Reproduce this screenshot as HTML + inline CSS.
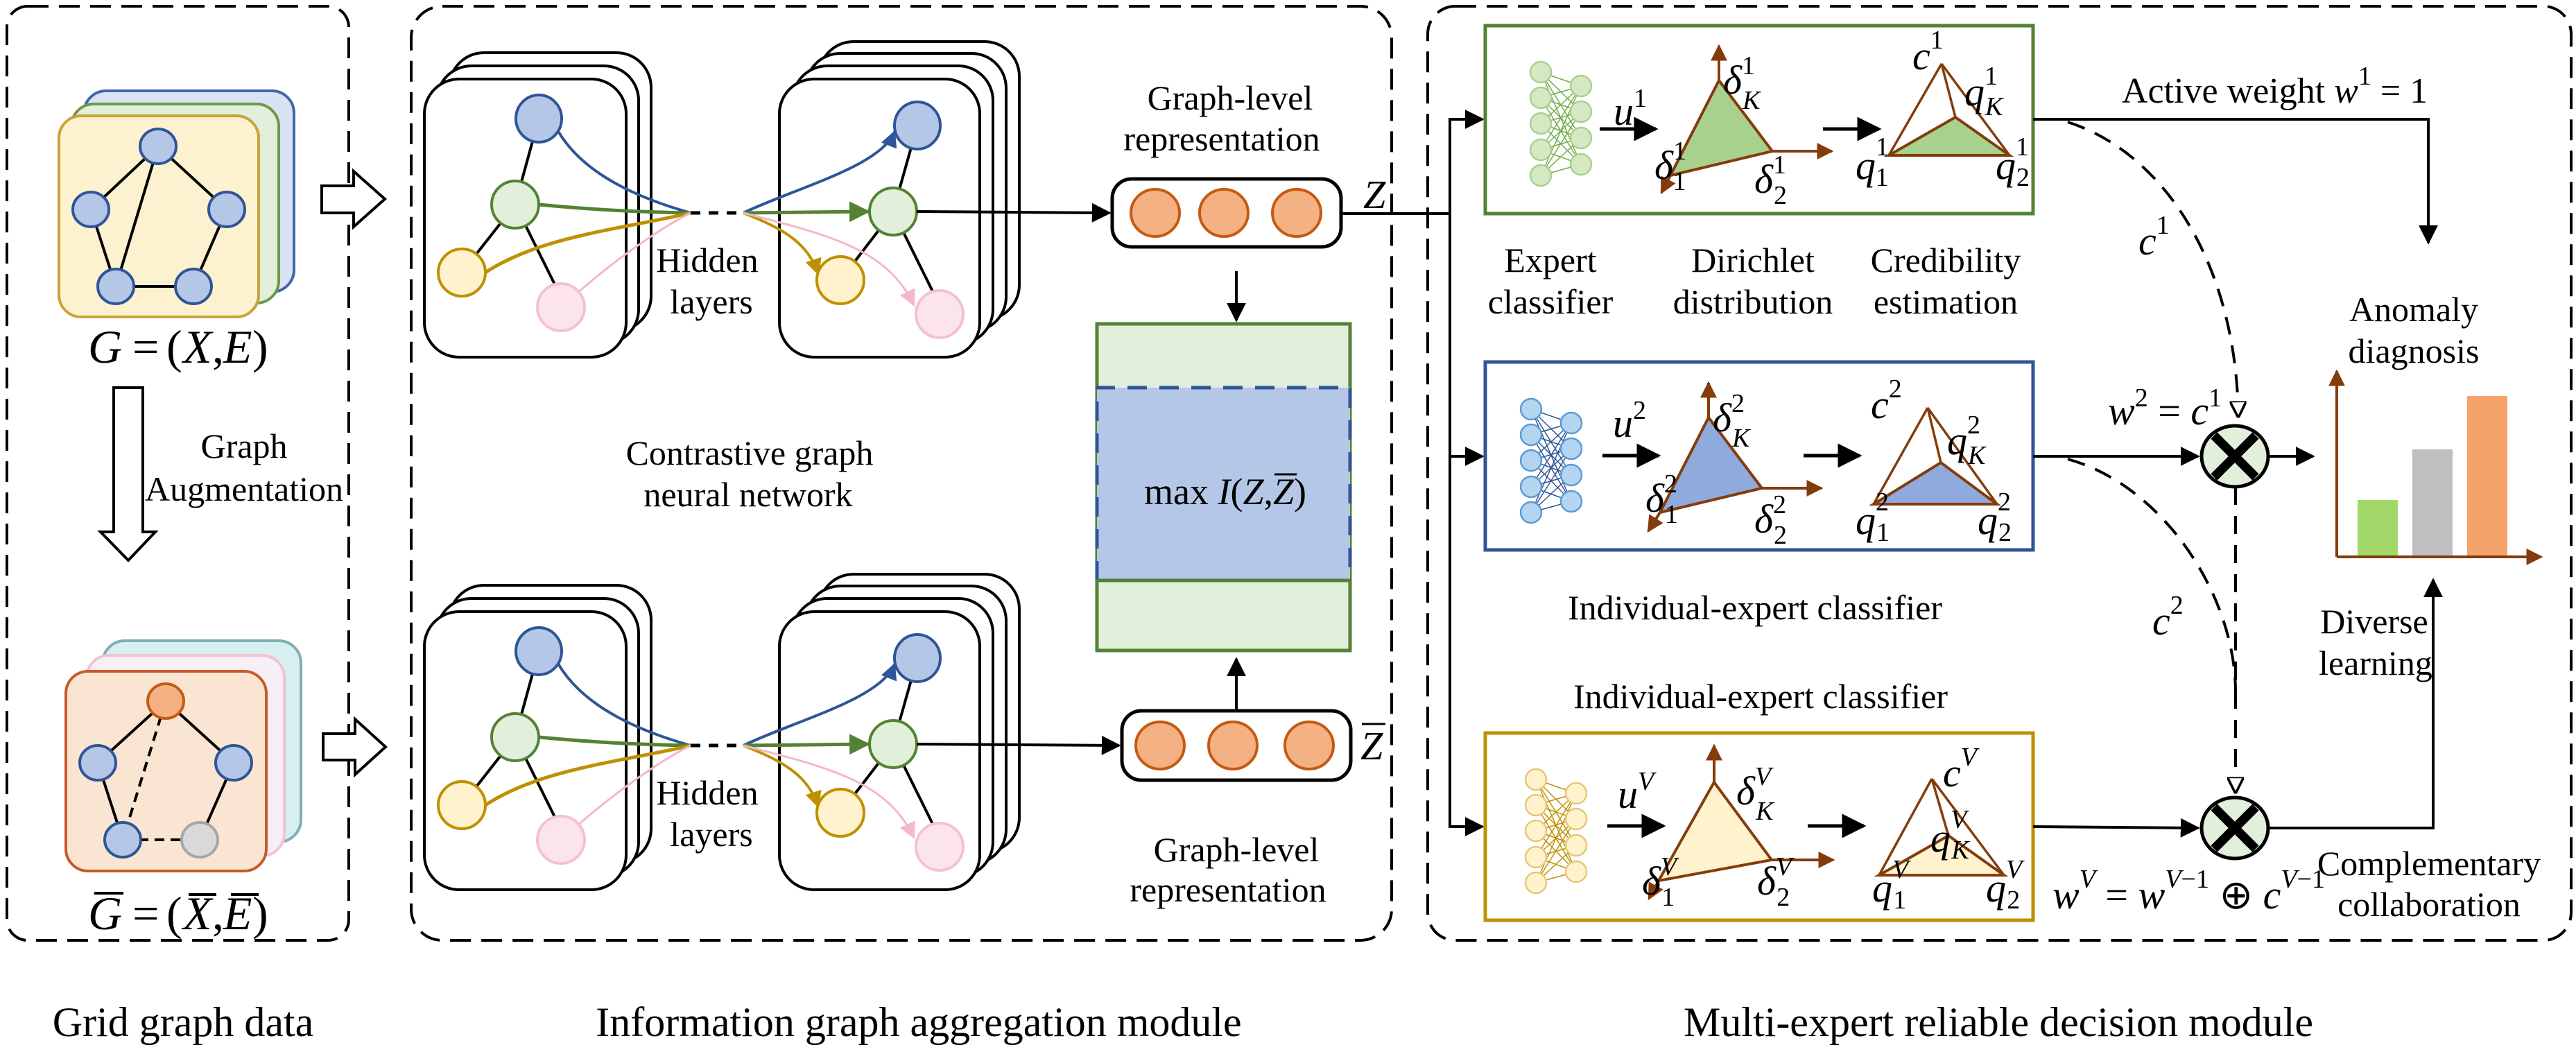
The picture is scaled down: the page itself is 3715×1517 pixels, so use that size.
<!DOCTYPE html>
<html><head><meta charset="utf-8"><style>
html,body{margin:0;padding:0;background:#fff}
svg{display:block}
svg text{font-family:"Liberation Serif","Times New Roman",serif !important;fill:#000}
.lb{font-size:50px;text-anchor:middle}
.big{font-size:60px;text-anchor:middle}
.m{font-style:italic;font-size:58px}
.s{font-size:38px;font-style:normal}
.si{font-size:38px;font-style:italic}
</style></head><body>
<svg width="3715" height="1517" viewBox="0 0 3715 1517" xmlns="http://www.w3.org/2000/svg" font-family="Liberation Serif, serif">
<defs>
<marker id="ab" viewBox="0 0 10 10" refX="9" refY="5" markerWidth="7" markerHeight="7" markerUnits="strokeWidth" orient="auto"><path d="M0,0L10,5L0,10z" fill="#000"/></marker>
<marker id="abr" viewBox="0 0 10 10" refX="9" refY="5" markerWidth="6" markerHeight="6" markerUnits="strokeWidth" orient="auto"><path d="M0,0L10,5L0,10z" fill="#843c0c"/></marker>
<marker id="ah" viewBox="0 0 10 10" refX="9" refY="5" markerWidth="6" markerHeight="6" markerUnits="strokeWidth" orient="auto"><path d="M0,0L10,5L0,10z" fill="#fff" stroke="#000" stroke-width="1.5"/></marker>
<marker id="mblue" viewBox="0 0 10 10" refX="9" refY="5" markerWidth="6" markerHeight="6" markerUnits="strokeWidth" orient="auto"><path d="M0,0L10,5L0,10z" fill="#2f5597"/></marker>
<marker id="mgreen" viewBox="0 0 10 10" refX="9" refY="5" markerWidth="6" markerHeight="6" markerUnits="strokeWidth" orient="auto"><path d="M0,0L10,5L0,10z" fill="#548235"/></marker>
<marker id="myel" viewBox="0 0 10 10" refX="9" refY="5" markerWidth="6" markerHeight="6" markerUnits="strokeWidth" orient="auto"><path d="M0,0L10,5L0,10z" fill="#bf9000"/></marker>
<marker id="mpink" viewBox="0 0 10 10" refX="9" refY="5" markerWidth="8" markerHeight="8" markerUnits="strokeWidth" orient="auto"><path d="M0,0L10,5L0,10z" fill="#f4b8c8"/></marker>

<g id="gnn">
  <path d="M777,171 L743,295 M743,295 L666,393 M743,295 L800,410" stroke="#000" stroke-width="4" fill="none"/>
  <path d="M800,180 C830,240 900,280 996,307" stroke="#2f5597" stroke-width="4" fill="none"/>
  <path d="M777,295 C850,302 920,306 996,307" stroke="#548235" stroke-width="5" fill="none"/>
  <path d="M700,393 C780,340 900,330 996,307" stroke="#bf9000" stroke-width="5" fill="none"/>
  <path d="M830,425 C880,380 950,330 996,307" stroke="#f4b8c8" stroke-width="3" fill="none"/>
  <ellipse cx="777" cy="171" rx="33" ry="34" fill="#b4c7e7" stroke="#2f5597" stroke-width="4"/>
  <ellipse cx="743" cy="295" rx="34" ry="34" fill="#e2efda" stroke="#548235" stroke-width="4"/>
  <ellipse cx="666" cy="393" rx="34" ry="34" fill="#fff2cc" stroke="#bf9000" stroke-width="4"/>
  <ellipse cx="809" cy="443" rx="34" ry="34" fill="#fce4ec" stroke="#f4c2ce" stroke-width="4"/>
  <line x1="996" y1="307" x2="1072" y2="307" stroke="#000" stroke-width="5" stroke-dasharray="14 12"/>
  <path d="M1323,181 L1288,305 M1288,305 L1212,404 M1288,305 L1345,420" stroke="#000" stroke-width="4" fill="none"/>
  <path d="M1072,307 C1150,270 1270,240 1290,190" stroke="#2f5597" stroke-width="4" fill="none" marker-end="url(#mblue)"/>
  <path d="M1072,307 L1252,305" stroke="#548235" stroke-width="5" fill="none" marker-end="url(#mgreen)"/>
  <path d="M1072,307 C1130,330 1165,350 1180,395" stroke="#bf9000" stroke-width="4" fill="none" marker-end="url(#myel)"/>
  <path d="M1072,307 C1200,340 1280,360 1318,440" stroke="#f4b8c8" stroke-width="3" fill="none" marker-end="url(#mpink)"/>
  <ellipse cx="1323" cy="181" rx="33" ry="34" fill="#b4c7e7" stroke="#2f5597" stroke-width="4"/>
  <ellipse cx="1288" cy="305" rx="34" ry="34" fill="#e2efda" stroke="#548235" stroke-width="4"/>
  <ellipse cx="1212" cy="404" rx="34" ry="34" fill="#fff2cc" stroke="#bf9000" stroke-width="4"/>
  <ellipse cx="1355" cy="453" rx="34" ry="34" fill="#fce4ec" stroke="#f4c2ce" stroke-width="4"/>
  <text class="lb" x="1020" y="392">Hidden</text>
  <text class="lb" x="1026" y="452">layers</text>
</g>
</defs>

<g fill="none" stroke="#000" stroke-width="4" stroke-dasharray="30 15">
<rect x="10" y="9" width="493" height="1347" rx="30"/>
<rect x="593" y="9" width="1414" height="1347" rx="45"/>
<rect x="2059" y="9" width="1649" height="1347" rx="40"/>
</g>

<!-- Panel 1 top stack -->
<rect x="121" y="131" width="303" height="290" rx="32" fill="#dae3f3" stroke="#4466aa" stroke-width="4"/>
<rect x="103" y="150" width="299" height="287" rx="32" fill="#e2efda" stroke="#6a9a4a" stroke-width="4"/>
<rect x="85" y="167" width="288" height="290" rx="32" fill="#fdf2d0" stroke="#c9a23a" stroke-width="4"/>
<path d="M228,211L131,302M228,211L327,302M131,302L167,413M327,302L279,413M167,413L279,413M228,211L167,413" stroke="#000" stroke-width="4"/>
<g fill="#b4c7e7" stroke="#2f5597" stroke-width="4">
<ellipse cx="228" cy="211" rx="26" ry="25"/><ellipse cx="131" cy="302" rx="26" ry="25"/><ellipse cx="327" cy="302" rx="26" ry="25"/><ellipse cx="167" cy="413" rx="26" ry="25"/><ellipse cx="279" cy="413" rx="26" ry="25"/>
</g>
<g style="font-size:68px">
<text x="127" y="523" font-style="italic" style="font-size:68px">G</text>
<text x="191" y="523" style="font-size:68px">=</text>
<text x="240" y="523" style="font-size:68px">(</text>
<text x="264" y="523" font-style="italic" style="font-size:68px">X</text>
<text x="306" y="523" style="font-size:68px">,</text>
<text x="322" y="523" font-style="italic" style="font-size:68px">E</text>
<text x="364" y="523" style="font-size:68px">)</text>
</g>

<path d="M164,559 L206,559 L206,767 L224,767 L185,808 L145,767 L164,767 Z" fill="#fff" stroke="#000" stroke-width="4"/>
<text class="lb" x="352" y="660">Graph</text>
<text class="lb" x="352" y="722">Augmentation</text>

<!-- Panel 1 bottom stack -->
<rect x="148" y="924" width="286" height="290" rx="32" fill="#d8eff2" stroke="#7fb0b0" stroke-width="4"/>
<rect x="125" y="945" width="285" height="289" rx="32" fill="#f8eef5" stroke="#f4c2ce" stroke-width="4"/>
<rect x="95" y="968" width="289" height="288" rx="32" fill="#fae5d3" stroke="#c55a2a" stroke-width="4"/>
<path d="M239,1011L141,1100M239,1011L337,1100M141,1100L177,1211M337,1100L288,1211" stroke="#000" stroke-width="4"/>
<path d="M239,1011L177,1211M177,1211L288,1211" stroke="#000" stroke-width="4" stroke-dasharray="14 9"/>
<ellipse cx="239" cy="1011" rx="26" ry="25" fill="#f4b183" stroke="#c55a11" stroke-width="4"/>
<g fill="#b4c7e7" stroke="#2f5597" stroke-width="4">
<ellipse cx="141" cy="1100" rx="26" ry="25"/><ellipse cx="337" cy="1100" rx="26" ry="25"/><ellipse cx="177" cy="1211" rx="26" ry="25"/>
</g>
<ellipse cx="288" cy="1211" rx="26" ry="25" fill="#d9d9d9" stroke="#a6a6a6" stroke-width="4"/>
<text x="127" y="1340" font-style="italic" style="font-size:68px">G</text>
<text x="191" y="1340" style="font-size:68px">=</text>
<text x="240" y="1340" style="font-size:68px">(</text>
<text x="264" y="1340" font-style="italic" style="font-size:68px">X</text>
<text x="306" y="1340" style="font-size:68px">,</text>
<text x="322" y="1340" font-style="italic" style="font-size:68px">E</text>
<text x="364" y="1340" style="font-size:68px">)</text>
<path d="M136,1288h42M272,1290h40M333,1290h40" stroke="#000" stroke-width="4"/>

<path d="M464,268 L510,268 L510,247 L555,287 L510,327 L510,307 L464,307 Z" fill="#fff" stroke="#000" stroke-width="4"/>
<path d="M466,1058 L512,1058 L512,1037 L556,1077 L512,1117 L512,1096 L466,1096 Z" fill="#fff" stroke="#000" stroke-width="4"/>

<g fill="#fff" stroke="#000" stroke-width="4">
<rect x="648" y="76" width="291" height="401" rx="50"/>
<rect x="630" y="95" width="291" height="401" rx="50"/>
<rect x="612" y="114" width="291" height="401" rx="50"/>
<rect x="1181" y="60" width="289" height="401" rx="50"/>
<rect x="1162" y="77" width="289" height="401" rx="50"/>
<rect x="1143" y="95" width="289" height="401" rx="50"/>
<rect x="1124" y="114" width="289" height="401" rx="50"/>
</g>
<use href="#gnn"/>
<g transform="translate(0,768)">
<g fill="#fff" stroke="#000" stroke-width="4">
<rect x="648" y="76" width="291" height="401" rx="50"/>
<rect x="630" y="95" width="291" height="401" rx="50"/>
<rect x="612" y="114" width="291" height="401" rx="50"/>
<rect x="1181" y="60" width="289" height="401" rx="50"/>
<rect x="1162" y="77" width="289" height="401" rx="50"/>
<rect x="1143" y="95" width="289" height="401" rx="50"/>
<rect x="1124" y="114" width="289" height="401" rx="50"/>
</g>
<use href="#gnn"/>
</g>

<text class="lb" x="1081" y="670">Contrastive graph</text>
<text class="lb" x="1079" y="730">neural network</text>

<line x1="1322" y1="305" x2="1600" y2="307" stroke="#000" stroke-width="4" marker-end="url(#ab)"/>
<rect x="1604" y="258" width="330" height="98" rx="28" fill="#fff" stroke="#000" stroke-width="5"/>
<g fill="#f4b183" stroke="#c55a11" stroke-width="4">
<ellipse cx="1666" cy="307" rx="35" ry="34"/><ellipse cx="1765" cy="307" rx="35" ry="34"/><ellipse cx="1870" cy="307" rx="35" ry="34"/>
</g>
<line x1="1322" y1="1073" x2="1614" y2="1075" stroke="#000" stroke-width="4" marker-end="url(#ab)"/>
<rect x="1618" y="1025" width="330" height="100" rx="28" fill="#fff" stroke="#000" stroke-width="5"/>
<g fill="#f4b183" stroke="#c55a11" stroke-width="4">
<ellipse cx="1673" cy="1075" rx="35" ry="34"/><ellipse cx="1778" cy="1075" rx="35" ry="34"/><ellipse cx="1888" cy="1075" rx="35" ry="34"/>
</g>
<text class="lb" x="1774" y="158">Graph-level</text>
<text class="lb" x="1762" y="217">representation</text>
<text class="lb" x="1783" y="1242">Graph-level</text>
<text class="lb" x="1771" y="1300">representation</text>
<text class="m" x="1966" y="300">Z</text>
<text class="m" x="1962" y="1095">Z</text>
<line x1="1964" y1="1044" x2="1998" y2="1044" stroke="#000" stroke-width="3"/>

<line x1="1783" y1="391" x2="1783" y2="462" stroke="#000" stroke-width="4" marker-end="url(#ab)"/>
<line x1="1783" y1="1025" x2="1783" y2="950" stroke="#000" stroke-width="4" marker-end="url(#ab)"/>
<rect x="1582" y="467" width="365" height="471" fill="#e2efda" stroke="#548235" stroke-width="5"/>
<rect x="1582" y="559" width="365" height="278" fill="#b4c7e7"/>
<path d="M1582,837 V559 H1947 V837" fill="none" stroke="#2f5597" stroke-width="5" stroke-dasharray="28 18"/>
<line x1="1582" y1="837" x2="1947" y2="837" stroke="#548235" stroke-width="5"/>
<text x="1650" y="727" style="font-size:54px">max <tspan font-style="italic">I</tspan>(<tspan font-style="italic">Z</tspan>,<tspan font-style="italic">Z</tspan>)</text>
<line x1="1838" y1="684" x2="1870" y2="684" stroke="#000" stroke-width="3"/>

<line x1="1934" y1="308" x2="2091" y2="308" stroke="#000" stroke-width="4"/>
<path d="M2138,172 H2091 V1192 H2138" fill="none" stroke="#000" stroke-width="4"/>
<line x1="2091" y1="172" x2="2138" y2="172" stroke="#000" stroke-width="4" marker-end="url(#ab)"/>
<line x1="2091" y1="658" x2="2138" y2="658" stroke="#000" stroke-width="4" marker-end="url(#ab)"/>
<line x1="2091" y1="1192" x2="2138" y2="1192" stroke="#000" stroke-width="4" marker-end="url(#ab)"/>

<!-- Box 1 -->
<rect x="2142" y="37" width="790" height="271" fill="#fff" stroke="#548235" stroke-width="5"/>
<g stroke="#70ad47" stroke-width="1.5">
<path d="M2222,104L2280,124M2222,104L2280,161M2222,104L2280,199M2222,104L2280,237M2222,141L2280,124M2222,141L2280,161M2222,141L2280,199M2222,141L2280,237M2222,178L2280,124M2222,178L2280,161M2222,178L2280,199M2222,178L2280,237M2222,216L2280,124M2222,216L2280,161M2222,216L2280,199M2222,216L2280,237M2222,253L2280,124M2222,253L2280,161M2222,253L2280,199M2222,253L2280,237"/>
</g>
<g fill="#d5e8c4" stroke="#a9d18e" stroke-width="2.5">
<ellipse cx="2222" cy="104" rx="15" ry="15"/><ellipse cx="2222" cy="141" rx="15" ry="15"/><ellipse cx="2222" cy="178" rx="15" ry="15"/><ellipse cx="2222" cy="216" rx="15" ry="15"/><ellipse cx="2222" cy="253" rx="15" ry="15"/>
<ellipse cx="2280" cy="124" rx="15" ry="15"/><ellipse cx="2280" cy="161" rx="15" ry="15"/><ellipse cx="2280" cy="199" rx="15" ry="15"/><ellipse cx="2280" cy="237" rx="15" ry="15"/>
</g>
<line x1="2307" y1="186" x2="2388" y2="186" stroke="#000" stroke-width="5" marker-end="url(#ab)"/>
<text class="m" x="2327" y="180">u<tspan class="s" dy="-26">1</tspan></text>
<polygon points="2479,116 2409,253 2556,218" fill="#a9d18e" stroke="#843c0c" stroke-width="4"/>
<line x1="2479" y1="116" x2="2479" y2="66" stroke="#843c0c" stroke-width="4" marker-end="url(#abr)"/>
<line x1="2556" y1="218" x2="2642" y2="218" stroke="#843c0c" stroke-width="4" marker-end="url(#abr)"/>
<line x1="2409" y1="253" x2="2396" y2="278" stroke="#843c0c" stroke-width="4" marker-end="url(#abr)"/>
<text class="m" x="2485" y="135">δ<tspan class="s" dy="-28">1</tspan><tspan class="si" dx="-18" dy="50">K</tspan></text>
<text class="m" x="2386" y="258">δ<tspan class="s" dy="-28">1</tspan><tspan class="s" dx="-18" dy="44">1</tspan></text>
<text class="m" x="2530" y="278">δ<tspan class="s" dy="-28">1</tspan><tspan class="s" dx="-18" dy="44">2</tspan></text>
<line x1="2629" y1="186" x2="2710" y2="186" stroke="#000" stroke-width="5" marker-end="url(#ab)"/>
<polygon points="2820,169 2724,224 2898,224" fill="#a9d18e" stroke="#843c0c" stroke-width="4"/>
<path d="M2800,92 L2724,224 M2800,92 L2898,224 M2800,92 L2820,169" stroke="#843c0c" stroke-width="3.5" fill="none"/>
<text class="m" x="2758" y="100">c<tspan class="s" dy="-30">1</tspan></text>
<text class="m" x="2833" y="152">q<tspan class="s" dy="-30">1</tspan><tspan class="si" dx="-18" dy="44">K</tspan></text>
<text class="m" x="2676" y="258">q<tspan class="s" dy="-34">1</tspan><tspan class="s" dx="-18" dy="44">1</tspan></text>
<text class="m" x="2878" y="258">q<tspan class="s" dy="-34">1</tspan><tspan class="s" dx="-18" dy="44">2</tspan></text>

<text class="lb" x="2236" y="392">Expert</text>
<text class="lb" x="2236" y="452">classifier</text>
<text class="lb" x="2528" y="392">Dirichlet</text>
<text class="lb" x="2528" y="452">distribution</text>
<text class="lb" x="2806" y="392">Credibility</text>
<text class="lb" x="2806" y="452">estimation</text>

<!-- Box 2 -->
<rect x="2142" y="522" width="790" height="271" fill="#fff" stroke="#2f5597" stroke-width="5"/>
<g transform="translate(-14,486)">
<g stroke="#2f5597" stroke-width="1.5">
<path d="M2222,104L2280,124M2222,104L2280,161M2222,104L2280,199M2222,104L2280,237M2222,141L2280,124M2222,141L2280,161M2222,141L2280,199M2222,141L2280,237M2222,178L2280,124M2222,178L2280,161M2222,178L2280,199M2222,178L2280,237M2222,216L2280,124M2222,216L2280,161M2222,216L2280,199M2222,216L2280,237M2222,253L2280,124M2222,253L2280,161M2222,253L2280,199M2222,253L2280,237"/>
</g>
<g fill="#b4d5f0" stroke="#5b9bd5" stroke-width="2.5">
<ellipse cx="2222" cy="104" rx="15" ry="15"/><ellipse cx="2222" cy="141" rx="15" ry="15"/><ellipse cx="2222" cy="178" rx="15" ry="15"/><ellipse cx="2222" cy="216" rx="15" ry="15"/><ellipse cx="2222" cy="253" rx="15" ry="15"/>
<ellipse cx="2280" cy="124" rx="15" ry="15"/><ellipse cx="2280" cy="161" rx="15" ry="15"/><ellipse cx="2280" cy="199" rx="15" ry="15"/><ellipse cx="2280" cy="237" rx="15" ry="15"/>
</g>
</g>
<line x1="2311" y1="657" x2="2392" y2="657" stroke="#000" stroke-width="5" marker-end="url(#ab)"/>
<text class="m" x="2326" y="630">u<tspan class="s" dy="-26">2</tspan></text>
<g transform="translate(-15,486)">
<polygon points="2479,116 2409,253 2556,218" fill="#8faadc" stroke="#843c0c" stroke-width="4"/>
<line x1="2479" y1="116" x2="2479" y2="66" stroke="#843c0c" stroke-width="4" marker-end="url(#abr)"/>
<line x1="2556" y1="218" x2="2642" y2="218" stroke="#843c0c" stroke-width="4" marker-end="url(#abr)"/>
<line x1="2409" y1="253" x2="2392" y2="280" stroke="#843c0c" stroke-width="4" marker-end="url(#abr)"/>
</g>
<text class="m" x="2470" y="622">δ<tspan class="s" dy="-28">2</tspan><tspan class="si" dx="-18" dy="50">K</tspan></text>
<text class="m" x="2373" y="738">δ<tspan class="s" dy="-28">2</tspan><tspan class="s" dx="-18" dy="44">1</tspan></text>
<text class="m" x="2530" y="768">δ<tspan class="s" dy="-28">2</tspan><tspan class="s" dx="-18" dy="44">2</tspan></text>
<line x1="2601" y1="657" x2="2682" y2="657" stroke="#000" stroke-width="5" marker-end="url(#ab)"/>
<polygon points="2799,667 2702,727 2880,727" fill="#8faadc" stroke="#843c0c" stroke-width="4"/>
<path d="M2780,588 L2702,727 M2780,588 L2880,727 M2780,588 L2799,667" stroke="#843c0c" stroke-width="3.5" fill="none"/>
<text class="m" x="2698" y="603">c<tspan class="s" dy="-30">2</tspan></text>
<text class="m" x="2808" y="655">q<tspan class="s" dy="-30">2</tspan><tspan class="si" dx="-18" dy="44">K</tspan></text>
<text class="m" x="2676" y="770">q<tspan class="s" dy="-34">2</tspan><tspan class="s" dx="-18" dy="44">1</tspan></text>
<text class="m" x="2852" y="770">q<tspan class="s" dy="-34">2</tspan><tspan class="s" dx="-18" dy="44">2</tspan></text>

<text class="lb" x="2531" y="893">Individual-expert classifier</text>
<text class="lb" x="2539" y="1021">Individual-expert classifier</text>

<!-- Box 3 -->
<rect x="2142" y="1057" width="790" height="270" fill="#fff" stroke="#bf9000" stroke-width="5"/>
<g transform="translate(-7,1020)">
<g stroke="#bf9000" stroke-width="1.5">
<path d="M2222,104L2280,124M2222,104L2280,161M2222,104L2280,199M2222,104L2280,237M2222,141L2280,124M2222,141L2280,161M2222,141L2280,199M2222,141L2280,237M2222,178L2280,124M2222,178L2280,161M2222,178L2280,199M2222,178L2280,237M2222,216L2280,124M2222,216L2280,161M2222,216L2280,199M2222,216L2280,237M2222,253L2280,124M2222,253L2280,161M2222,253L2280,199M2222,253L2280,237"/>
</g>
<g fill="#fff2cc" stroke="#e6c77a" stroke-width="2.5">
<ellipse cx="2222" cy="104" rx="15" ry="15"/><ellipse cx="2222" cy="141" rx="15" ry="15"/><ellipse cx="2222" cy="178" rx="15" ry="15"/><ellipse cx="2222" cy="216" rx="15" ry="15"/><ellipse cx="2222" cy="253" rx="15" ry="15"/>
<ellipse cx="2280" cy="124" rx="15" ry="15"/><ellipse cx="2280" cy="161" rx="15" ry="15"/><ellipse cx="2280" cy="199" rx="15" ry="15"/><ellipse cx="2280" cy="237" rx="15" ry="15"/>
</g>
</g>
<line x1="2318" y1="1191" x2="2399" y2="1191" stroke="#000" stroke-width="5" marker-end="url(#ab)"/>
<text class="m" x="2333" y="1165">u<tspan class="si" dy="-26">V</tspan></text>
<polygon points="2472,1128 2392,1270 2555,1240" fill="#fff2cc" stroke="#843c0c" stroke-width="4"/>
<line x1="2472" y1="1128" x2="2472" y2="1075" stroke="#843c0c" stroke-width="4" marker-end="url(#abr)"/>
<line x1="2555" y1="1240" x2="2644" y2="1240" stroke="#843c0c" stroke-width="4" marker-end="url(#abr)"/>
<line x1="2392" y1="1270" x2="2378" y2="1296" stroke="#843c0c" stroke-width="4" marker-end="url(#abr)"/>
<text class="m" x="2504" y="1160">δ<tspan class="si" dy="-28">V</tspan><tspan class="si" dx="-22" dy="50">K</tspan></text>
<text class="m" x="2368" y="1290">δ<tspan class="si" dy="-28">V</tspan><tspan class="s" dx="-22" dy="44">1</tspan></text>
<text class="m" x="2534" y="1290">δ<tspan class="si" dy="-28">V</tspan><tspan class="s" dx="-22" dy="44">2</tspan></text>
<line x1="2607" y1="1191" x2="2688" y2="1191" stroke="#000" stroke-width="5" marker-end="url(#ab)"/>
<polygon points="2810,1205 2710,1262 2890,1262" fill="#fff2cc" stroke="#843c0c" stroke-width="4"/>
<path d="M2786,1123 L2710,1262 M2786,1123 L2890,1262 M2786,1123 L2810,1205" stroke="#843c0c" stroke-width="3.5" fill="none"/>
<text class="m" x="2802" y="1134">c<tspan class="si" dy="-30">V</tspan></text>
<text class="m" x="2784" y="1228">q<tspan class="si" dy="-34">V</tspan><tspan class="si" dx="-22" dy="44">K</tspan></text>
<text class="m" x="2700" y="1300">q<tspan class="si" dy="-34">V</tspan><tspan class="s" dx="-22" dy="44">1</tspan></text>
<text class="m" x="2864" y="1300">q<tspan class="si" dy="-34">V</tspan><tspan class="s" dx="-22" dy="44">2</tspan></text>

<path d="M2932,172 H3502 V350" fill="none" stroke="#000" stroke-width="4" marker-end="url(#ab)"/>
<text x="3060" y="148" style="font-size:52px">Active weight <tspan font-style="italic">w</tspan><tspan class="s" dy="-26">1</tspan><tspan dy="26"> = 1</tspan></text>
<path d="M2982,176 C3120,220 3225,380 3228,600" fill="none" stroke="#000" stroke-width="4" stroke-dasharray="26 16" marker-end="url(#ah)"/>
<text class="m" x="3084" y="367">c<tspan class="s" dy="-30">1</tspan></text>
<line x1="2932" y1="658" x2="3170" y2="658" stroke="#000" stroke-width="4" marker-end="url(#ab)"/>
<text class="m" x="3040" y="612">w<tspan class="s" dy="-26">2</tspan><tspan font-style="normal" dy="26"> = </tspan>c<tspan class="s" dy="-26">1</tspan></text>
<line x1="3271" y1="658" x2="3336" y2="658" stroke="#000" stroke-width="4" marker-end="url(#ab)"/>
<path d="M2982,662 C3120,700 3225,860 3224,1000" fill="none" stroke="#000" stroke-width="4" stroke-dasharray="26 16"/>
<line x1="3224" y1="702" x2="3224" y2="1142" stroke="#000" stroke-width="4" stroke-dasharray="26 16" marker-end="url(#ah)"/>
<text class="m" x="3104" y="915">c<tspan class="s" dy="-30">2</tspan></text>
<line x1="2932" y1="1192" x2="3170" y2="1194" stroke="#000" stroke-width="4" marker-end="url(#ab)"/>
<path d="M3271,1194 H3509 V836" fill="none" stroke="#000" stroke-width="4" marker-end="url(#ab)"/>

<g stroke="#000">
<ellipse cx="3223" cy="658" rx="48" ry="44" fill="#e2efda" stroke-width="5"/>
<path d="M3193,628 L3253,688 M3253,628 L3193,688" stroke-width="13"/>
<ellipse cx="3223" cy="1194" rx="48" ry="44" fill="#e2efda" stroke-width="5"/>
<path d="M3193,1164 L3253,1224 M3253,1164 L3193,1224" stroke-width="13"/>
</g>

<text class="m" x="2960" y="1310">w<tspan class="si" dy="-30">V</tspan><tspan font-style="normal" dy="30"> = </tspan>w<tspan class="si" dy="-30">V</tspan><tspan class="s">−1</tspan><tspan font-style="normal" dy="30"> ⊕ </tspan>c<tspan class="si" dy="-30">V</tspan><tspan class="s">−1</tspan></text>
<text class="lb" x="3503" y="1262">Complementary</text>
<text class="lb" x="3503" y="1321">collaboration</text>
<text class="lb" x="3424" y="913">Diverse</text>
<text class="lb" x="3426" y="973">learning</text>
<text class="lb" x="3481" y="463">Anomaly</text>
<text class="lb" x="3481" y="523">diagnosis</text>

<rect x="3400" y="721" width="58" height="80" fill="#92d050" opacity="0.85"/>
<rect x="3479" y="648" width="58" height="153" fill="#bfbfbf"/>
<rect x="3558" y="571" width="58" height="230" fill="#f4a46a"/>
<line x1="3370" y1="803" x2="3370" y2="535" stroke="#843c0c" stroke-width="4" marker-end="url(#abr)"/>
<line x1="3370" y1="803" x2="3665" y2="803" stroke="#843c0c" stroke-width="4" marker-end="url(#abr)"/>

<text class="big" x="264" y="1494">Grid graph data</text>
<text class="big" x="1325" y="1494">Information graph aggregation module</text>
<text class="big" x="2882" y="1494">Multi-expert reliable decision module</text>
</svg>
</body></html>
